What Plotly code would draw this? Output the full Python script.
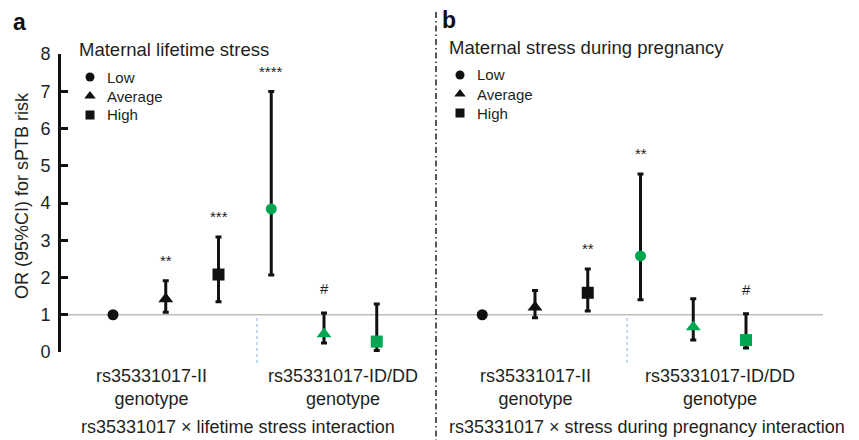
import plotly.graph_objects as go

# The page body keeps the browser's default 8px margin, so the figure is
# drawn 8px in from the window's top-left corner; size it to end at the edge.
WIN_W, WIN_H = 859, 440
OFF = 8
FW, FH = WIN_W - OFF, WIN_H - OFF

# ---------------- data ----------------
stress_levels = ["Low", "Average", "High", "Low", "Average", "High"]
genotype = ["II", "II", "II", "ID/DD", "ID/DD", "ID/DD"]

lifetime_or = [1.00, 1.42, 2.08, 3.84, 0.48, 0.28]
lifetime_lo = [None, 1.07, 1.35, 2.07, 0.24, 0.04]
lifetime_hi = [None, 1.91, 3.09, 6.99, 1.05, 1.29]
lifetime_sig = ["", "**", "***", "****", "#", ""]

pregnancy_or = [1.00, 1.20, 1.59, 2.58, 0.67, 0.32]
pregnancy_lo = [None, 0.92, 1.10, 1.40, 0.32, 0.11]
pregnancy_hi = [None, 1.65, 2.23, 4.78, 1.43, 1.03]
pregnancy_sig = ["", "", "**", "**", "", "#"]

legend_levels = ["Low", "Average", "High"]
y_ticks = [0, 1, 2, 3, 4, 5, 6, 7, 8]

# ---------------- style ----------------
FONT = "Liberation Sans, Arial, sans-serif"
TXT = "#231f20"
BLACK = "#111111"
GREEN = "#00a651"
SYMBOL = {"Low": "circle", "Average": "triangle-up", "High": "square"}
SIZE = {"Low": 11, "Average": 13, "High": 12}
COLOR = {"II": BLACK, "ID/DD": GREEN}


def px_x(p):
    return (p - OFF) / FW


def px_y(p):
    return 1 - (p - OFF) / FH


# axis geometry (window pixels)
x0_px, step = 113, 52.75          # x pixel of first category and spacing
x_left_px = 61                    # y-axis line
y_top_px, y_bot_px = 54, 352      # y = 8 and y = 0
xr = [(x_left_px - x0_px) / step, (WIN_W - x0_px) / step]
unit = (y_bot_px - y_top_px) / 8.0


def xd(p):
    return (p - x0_px) / step


def yd(p):
    return (y_bot_px - p) / unit


fig = go.Figure()

panels = [
    (0, lifetime_or, lifetime_lo, lifetime_hi, lifetime_sig),
    (7, pregnancy_or, pregnancy_lo, pregnancy_hi, pregnancy_sig),
]

annotations = []
for offset, orv, lo, hi, sig in panels:
    xs = [offset + i for i in range(len(orv))]
    plus = [float("nan") if h is None else h - v for h, v in zip(hi, orv)]
    minus = [float("nan") if l is None else v - l for l, v in zip(lo, orv)]
    fig.add_trace(go.Scatter(
        x=xs, y=orv, mode="markers", showlegend=False,
        marker=dict(symbol=[SYMBOL[s] for s in stress_levels],
                    size=[SIZE[s] for s in stress_levels],
                    color=[COLOR[g] for g in genotype],
                    opacity=1, line=dict(width=0)),
        error_y=dict(type="data", symmetric=False, array=plus, arrayminus=minus,
                     color=BLACK, thickness=3, width=3),
        cliponaxis=False,
    ))
    for x, h, v, s in zip(xs, hi, orv, sig):
        if s:
            top = h if h is not None else v
            annotations.append(dict(
                x=x, y=top, xref="x", yref="y", text=s, showarrow=False,
                xanchor="center", yanchor="bottom", yshift=10 if "*" in s else 14,
                font=dict(family=FONT, size=15, color=TXT)))

# legend keys (symbol x px, first row y px)
legend_blocks = [(90, 77), (460, 75)]
row_gap = 19
for lx, ly in legend_blocks:
    fig.add_trace(go.Scatter(
        x=[xd(lx)] * len(legend_levels),
        y=[yd(ly + k * row_gap) for k in range(len(legend_levels))],
        mode="markers", showlegend=False, hoverinfo="skip", cliponaxis=False,
        marker=dict(symbol=[SYMBOL[s] for s in legend_levels], size=[9, 10, 9],
                    color=BLACK, opacity=1, line=dict(width=0)),
    ))
    for k, s in enumerate(legend_levels):
        annotations.append(dict(
            x=px_x(lx + 15), y=px_y(ly + k * row_gap), xref="paper", yref="paper",
            text=s, showarrow=False, xanchor="left", yanchor="middle",
            font=dict(family=FONT, size=15, color=TXT)))

shapes = [
    dict(type="line", xref="x", yref="y", x0=xr[0], x1=xd(823), y0=1, y1=1,
         line=dict(color="#bdbdbd", width=1.5), layer="below"),
    dict(type="line", xref="x", yref="paper", x0=xd(257), x1=xd(257),
         y0=px_y(318), y1=px_y(364), line=dict(color="#8ab4e0", width=1, dash="dot")),
    dict(type="line", xref="x", yref="paper", x0=xd(627), x1=xd(627),
         y0=px_y(318), y1=px_y(364), line=dict(color="#8ab4e0", width=1, dash="dot")),
    dict(type="line", xref="paper", yref="paper", x0=px_x(436), x1=px_x(436),
         y0=px_y(12), y1=0, line=dict(color="#222222", width=1.5, dash="6px,3px,1.5px,3px")),
]

tf = dict(family=FONT, color=TXT)


def label(xp, yp, text, size=18, xanchor="center", **kw):
    return dict(x=px_x(xp), y=px_y(yp), xref="paper", yref="paper", text=text,
                showarrow=False, xanchor=xanchor, yanchor="middle",
                font=dict(size=size, **tf), **kw)


annotations += [
    dict(x=px_x(11), y=px_y(22), xref="paper", yref="paper", text="<b>a</b>",
         showarrow=False, xanchor="left", yanchor="middle",
         font=dict(family=FONT, size=23, color="#111")),
    dict(x=px_x(440), y=px_y(20), xref="paper", yref="paper", text="<b>b</b>",
         showarrow=False, xanchor="left", yanchor="middle",
         font=dict(family=FONT, size=23, color="#111")),
    label(77, 50, "Maternal lifetime stress", size=18.5, xanchor="left"),
    label(447, 47, "Maternal stress during pregnancy", size=18.5, xanchor="left"),
    label(22, 196, "OR (95%CI) for sPTB risk", textangle=-90),
    label(151, 387, "rs35331017-II<br>genotype"),
    label(343, 387, "rs35331017-ID/DD<br>genotype"),
    label(535, 387, "rs35331017-II<br>genotype"),
    label(720, 387, "rs35331017-ID/DD<br>genotype"),
    label(238, 427, "rs35331017 × lifetime stress interaction"),
    label(647, 427, "rs35331017 × stress during pregnancy interaction"),
]

fig.update_layout(
    width=FW, height=FH,
    margin=dict(l=0, r=0, t=0, b=0, autoexpand=False),
    paper_bgcolor="white", plot_bgcolor="white",
    showlegend=False,
    xaxis=dict(domain=[px_x(x_left_px), 1], range=xr, visible=False, fixedrange=True),
    yaxis=dict(domain=[px_y(y_bot_px), px_y(y_top_px)], range=[0, 8], tickvals=y_ticks,
               showline=True, linecolor="#111", linewidth=3, ticks="inside",
               ticklen=7, tickwidth=2.5, tickcolor="#111", showgrid=False, zeroline=False,
               tickfont=dict(family=FONT, size=18, color=TXT), ticklabelstandoff=4,
               automargin=False, fixedrange=True),
    shapes=shapes,
    annotations=annotations,
)

fig.write_html("out.html")
